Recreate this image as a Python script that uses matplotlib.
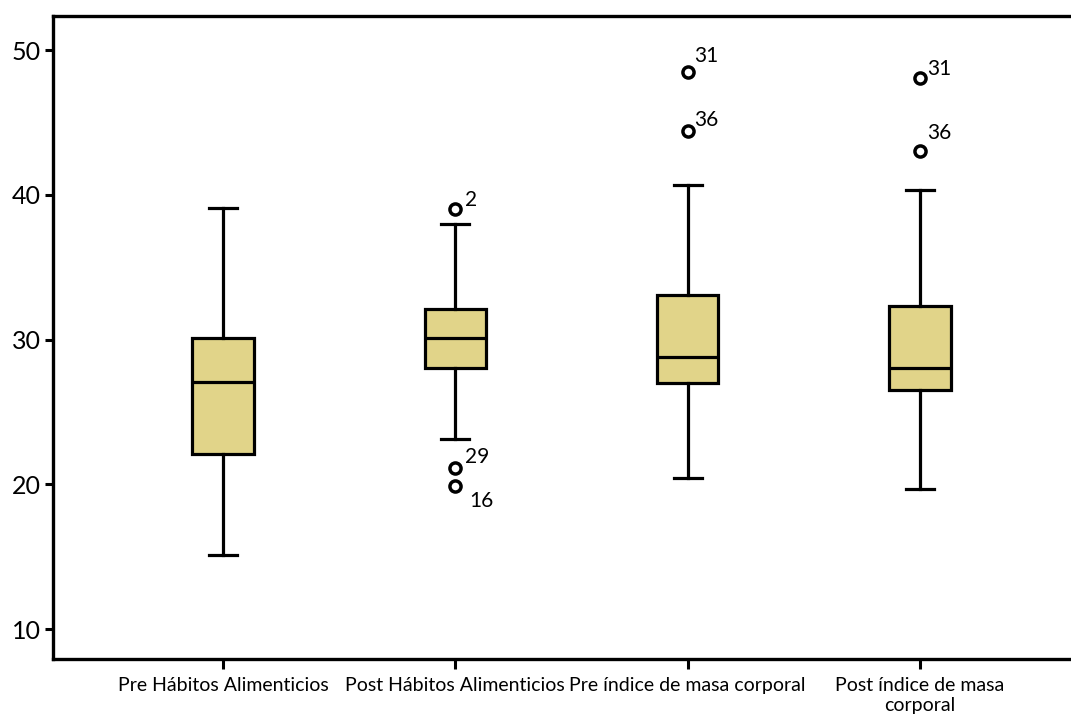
import numpy as np
import matplotlib.pyplot as plt

plt.rcParams['font.family'] = ['Lato', 'DejaVu Sans']

# categorias y estadisticos
categorias = ['Pre Hábitos Alimenticios', 'Post Hábitos Alimenticios',
              'Pre índice de masa corporal', 'Post índice de masa\ncorporal']
bigote_inf = [15.1, 23.1, 20.4, 19.7]
q1 = [22.1, 28.0, 27.0, 26.5]
mediana = [27.1, 30.1, 28.8, 28.0]
q3 = [30.1, 32.1, 33.1, 32.3]
bigote_sup = [39.1, 38.0, 40.7, 40.3]
atipicos = [[], [39.0, 21.1, 19.9], [48.5, 44.4], [48.1, 43.0]]
etiquetas_atipicos = [[], ['2', '29', '16'], ['31', '36'], ['31', '36']]

# desplazamiento de cada etiqueta (puntos)
offsets = [[], [(7, 2), (7, 4), (10, -15)], [(5, 7), (5, 4)], [(5, 1.5), (5, 9)]]

stats = []
for i in range(len(categorias)):
    stats.append({'whislo': bigote_inf[i], 'q1': q1[i], 'med': mediana[i],
                  'q3': q3[i], 'whishi': bigote_sup[i], 'fliers': atipicos[i]})

fig = plt.figure(figsize=(10.71, 7.22), dpi=100)
ax = fig.add_axes([53 / 1071, 1 - 659 / 722, 1.3, (659 - 16) / 722])

posiciones = np.arange(1, len(categorias) + 1)
lw = 2.3
ax.bxp(stats, positions=posiciones, widths=0.265, patch_artist=True,
       boxprops=dict(facecolor='#E1D489', edgecolor='black', linewidth=lw),
       medianprops=dict(color='black', linewidth=lw),
       whiskerprops=dict(color='black', linewidth=lw),
       capprops=dict(color='black', linewidth=lw),
       flierprops=dict(marker='o', markersize=8, markerfacecolor='white',
                       markeredgecolor='black', markeredgewidth=2.5),
       capwidths=0.12)

# etiquetas de los atipicos
for i, (vals, labs) in enumerate(zip(atipicos, etiquetas_atipicos)):
    for v, t, off in zip(vals, labs, offsets[i]):
        ax.annotate(t, (posiciones[i], v), xytext=off, textcoords='offset points',
                    ha='left', va='baseline', fontsize=15)

px_unidad = 232.3
ax.set_xlim(1 - (223 - 53) / px_unidad, 1 - (223 - 53) / px_unidad + 1.3 * 1071 / px_unidad)
ax.set_ylim(7.93, 52.35)
ax.set_yticks([10, 20, 30, 40, 50])
ax.set_xticks(posiciones)
ax.set_xticklabels(categorias, fontsize=14)
ax.tick_params(axis='y', labelsize=18, width=2.2, length=6, direction='out', pad=3)
ax.tick_params(axis='x', width=2.2, length=7, direction='out', pad=6)
for s in ax.spines.values():
    s.set_linewidth(2.4)
ax.spines['right'].set_visible(False)

fig.savefig('out.png', dpi=100)
